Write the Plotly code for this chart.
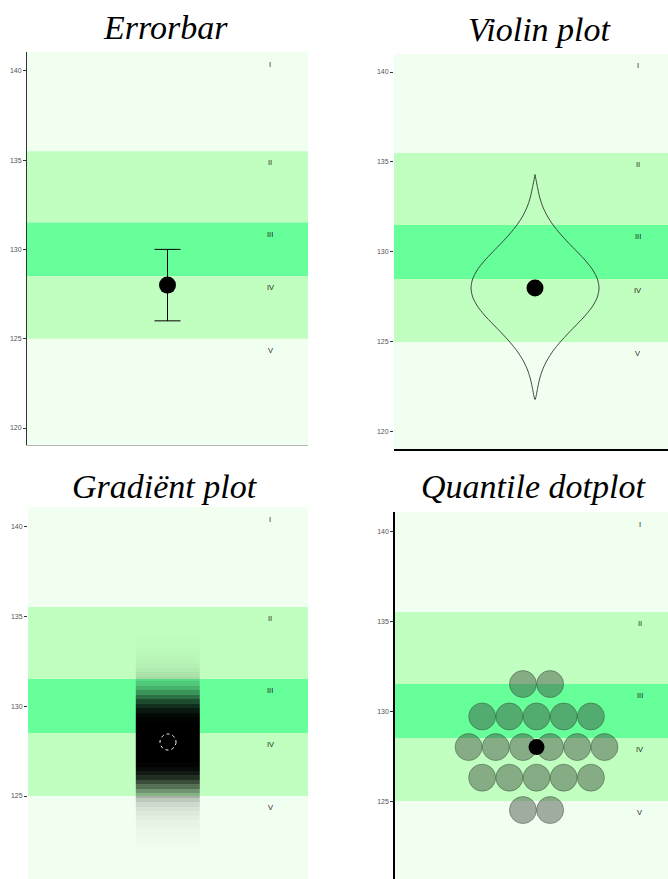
import plotly.graph_objects as go

# Central estimate and its interval
center_value = 128.0
interval_low = 126.0
interval_high = 130.0

# Reference bands (top to bottom)
band_names = ["I", "II", "III", "IV", "V"]
band_tops = [141.0, 135.5, 131.5, 128.5, 125.0]
band_bottoms = [135.5, 131.5, 128.5, 125.0, 119.0]
band_colors = ["#F0FFF0", "#C1FFC1", "#66FF99", "#C1FFC1", "#F0FFF0"]

y_ticks = [120, 125, 130, 135, 140]

# Violin outline: relative half-width at each level
violin_y = [121.8, 122.5, 123.0, 123.5, 124.0, 124.5, 125.0, 125.5, 126.0, 126.5,
            127.0, 127.5, 128.0, 128.5, 129.0, 129.5, 130.0, 130.5, 131.0, 131.5,
            132.0, 132.5, 133.0, 133.5, 134.3]
violin_width = [0.0, 0.044, 0.076, 0.123, 0.191, 0.282, 0.395, 0.524, 0.661, 0.793,
                0.902, 0.974, 1.0, 0.974, 0.902, 0.793, 0.661, 0.524, 0.395, 0.282,
                0.191, 0.123, 0.076, 0.044, 0.0]

# Gradient strips: level and opacity
gradient_y = [122.25, 122.5, 122.75, 123.0, 123.25, 123.5, 123.75, 124.0, 124.25, 124.5,
              124.75, 125.0, 125.25, 125.5, 125.75, 126.0, 126.25, 126.5, 126.75, 127.0,
              127.25, 127.5, 127.75, 128.0, 128.25, 128.5, 128.75, 129.0, 129.25, 129.5,
              129.75, 130.0, 130.25, 130.5, 130.75, 131.0, 131.25, 131.5, 131.75, 132.0,
              132.25, 132.5, 132.75, 133.0, 133.25, 133.5, 133.75]
gradient_alpha = [0.01, 0.015, 0.02, 0.025, 0.035, 0.045, 0.06, 0.08, 0.11, 0.15,
                  0.21, 0.3, 0.42, 0.56, 0.7, 0.82, 0.9, 0.96, 0.99, 1.0,
                  1.0, 1.0, 1.0, 1.0, 1.0, 1.0, 1.0, 1.0, 0.99, 0.96,
                  0.9, 0.82, 0.7, 0.56, 0.42, 0.3, 0.21, 0.15, 0.11, 0.08,
                  0.06, 0.045, 0.035, 0.025, 0.02, 0.015, 0.01]

# Quantile dotplot: bin levels and number of dots per bin
dot_rows = [131.5, 129.7, 128.0, 126.3, 124.5]
dot_counts = [2, 5, 6, 5, 2]

W, H = 668, 879

# style constants
VIOLIN_HALF = 0.454
GRAD_HALF = 0.23
DOT_STEP = 0.192
DOT_SIZE = 27


def px_x(v):
    return v / W


def px_y(v):
    return 1 - v / H


panels = [
    # (axis suffix, x domain px, y domain px, x range, y range)
    ("", (27, 308), (52, 445), [-1, 1], [119.05, 141.05]),
    ("2", (394, 668), (54, 449), [-1, 0.943], [119.05, 141.0]),
    ("3", (28, 308), (507, 879), [-1, 1], [120.39, 141.06]),
    ("4", (395, 668), (512, 879), [-1, 0.929], [120.67, 141.06]),
]

fig = go.Figure()

# Errorbar panel
fig.add_trace(go.Scatter(
    x=[0], y=[center_value], mode="markers", xaxis="x", yaxis="y",
    marker=dict(color="black", size=17),
    error_y=dict(type="data", symmetric=False,
                 array=[interval_high - center_value],
                 arrayminus=[center_value - interval_low],
                 width=13, thickness=1, color="black"),
    showlegend=False, hoverinfo="skip"))

# Violin panel
vx = [w * VIOLIN_HALF for w in violin_width] + [-w * VIOLIN_HALF for w in violin_width[::-1]]
vy = violin_y + violin_y[::-1]
fig.add_trace(go.Scatter(
    x=vx, y=vy, mode="lines", xaxis="x2", yaxis="y2",
    line=dict(color="#333333", width=0.9, shape="spline", smoothing=0.8),
    showlegend=False, hoverinfo="skip"))
fig.add_trace(go.Scatter(
    x=[0], y=[center_value], mode="markers", xaxis="x2", yaxis="y2",
    marker=dict(color="black", size=17), showlegend=False, hoverinfo="skip"))

# Gradient panel: one column of strips, opacity mapped through a black ramp
step = gradient_y[1] - gradient_y[0]
strip_edges = [g - step / 2 for g in gradient_y] + [gradient_y[-1] + step / 2]
fig.add_trace(go.Heatmap(
    x=[-GRAD_HALF, GRAD_HALF], y=strip_edges,
    z=[[a] for a in gradient_alpha], zmin=0, zmax=1,
    colorscale=[[0, "rgba(0,0,0,0)"], [1, "rgba(0,0,0,1)"]],
    showscale=False, xaxis="x3", yaxis="y3", hoverinfo="skip"))

# Quantile dotplot panel
dx, dy = [], []
for level, n in zip(dot_rows, dot_counts):
    for k in range(n):
        dx.append((k - (n - 1) / 2) * DOT_STEP)
        dy.append(level)
fig.add_trace(go.Scatter(
    x=dx, y=dy, mode="markers", xaxis="x4", yaxis="y4",
    marker=dict(color="rgba(60,72,60,0.45)", size=DOT_SIZE,
                line=dict(color="rgba(40,60,40,0.6)", width=0.7)),
    showlegend=False, hoverinfo="skip"))
fig.add_trace(go.Scatter(
    x=[0], y=[center_value], mode="markers", xaxis="x4", yaxis="y4",
    marker=dict(color="black", size=16), showlegend=False, hoverinfo="skip"))

shapes = []
annotations = []
layout_axes = {}
tick_font = dict(family="Liberation Sans", size=7, color="#555555")

for suffix, (xl, xr), (yt, yb), xrng, yrng in panels:
    xname = "x" + suffix
    yname = "y" + suffix
    layout_axes["xaxis" + suffix] = dict(
        domain=[px_x(xl), px_x(xr)], range=xrng, anchor=yname,
        showgrid=False, zeroline=False, showticklabels=False, ticks="",
        fixedrange=True)
    layout_axes["yaxis" + suffix] = dict(
        domain=[px_y(yb), px_y(yt)], range=yrng, anchor=xname,
        showgrid=False, zeroline=False, tickvals=y_ticks,
        ticktext=[str(t) for t in y_ticks], ticks="outside", ticklen=3,
        tickcolor="#333333", tickwidth=1, tickfont=tick_font, fixedrange=True)
    # middle bands over the pale background
    for name, top, bot, col in zip(band_names, band_tops, band_bottoms, band_colors):
        if name in ("II", "III", "IV"):
            shapes.append(dict(type="rect", xref=xname + " domain", yref=yname,
                               x0=0, x1=1, y0=bot, y1=top, fillcolor=col,
                               line=dict(width=0), layer="below"))
        annotations.append(dict(
            x=0.73, y=top - 0.65, xref=xname, yref=yname, text=name,
            showarrow=False, font=dict(family="Liberation Sans", size=7.5, color="#222222")))

# axis lines per panel
layout_axes["yaxis"].update(showline=True, linecolor="#333333", linewidth=1)
layout_axes["xaxis"].update(showline=True, linecolor="#b5b5b5", linewidth=1)
layout_axes["xaxis2"].update(showline=True, linecolor="#000000", linewidth=1.5)
layout_axes["yaxis4"].update(showline=True, linecolor="#000000", linewidth=1.5)

# dashed ring at the centre of the gradient
shapes.append(dict(type="circle", xref="x3", yref="y3", xsizemode="pixel",
                   ysizemode="pixel", xanchor=0, yanchor=center_value,
                   x0=-8, x1=8, y0=-8, y1=8,
                   line=dict(color="white", width=1, dash="dot"), layer="above"))

titles = [("Errorbar", 165, 27), ("Violin plot", 540, 30),
          ("Gradiënt plot", 165, 486), ("Quantile dotplot", 533, 486)]
for text, cx, cy in titles:
    annotations.append(dict(
        x=px_x(cx), y=px_y(cy), xref="paper", yref="paper", text=f"<i>{text}</i>",
        showarrow=False, xanchor="center", yanchor="middle",
        font=dict(family="Liberation Serif", size=34, color="black")))

fig.update_layout(
    width=W, height=H, margin=dict(l=0, r=0, t=0, b=0),
    paper_bgcolor="white", plot_bgcolor="#F0FFF0",
    showlegend=False,
    shapes=shapes, annotations=annotations, **layout_axes)

fig.write_html("out.html", config=dict(displayModeBar=False))
